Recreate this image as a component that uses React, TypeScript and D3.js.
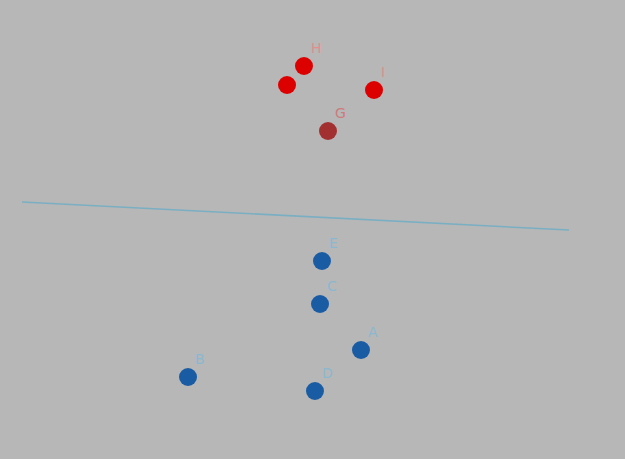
// scatter of two classes split by a separating line, drawn with d3
import * as d3 from "d3";
import { useRef, useEffect } from "react";

// point labels, coordinates and class (0 = upper red, 1 = lower blue, 2 = dark red)
const labels = ["H", "", "I", "G", "E", "C", "A", "B", "D"];
const xValues = [5.155, 4.845, 6.435, 5.594, 5.484, 5.448, 6.197, 3.035, 5.356];
const yValues = [8.85, 8.375, 8.25, 7.225, 3.975, 2.9, 1.75, 1.075, 0.725];
const classes = [0, 0, 0, 2, 1, 1, 1, 1, 1];

// separating line end points
const lineX = [0, 10];
const lineY = [5.45, 4.75];

const colors = ["#dd0000", "#1a5ca4", "#a33030"];
const labelColors = ["#e58c8c", "#8bb7d0", "#cd7a7a"];

export default function App() {
    const svgRef = useRef<SVGSVGElement>(null);

    useEffect(() => {
        const width = 625;
        const height = 459;
        const svg = d3.select(svgRef.current);
        svg.selectAll("*").remove();

        const x = d3.scaleLinear().domain([0, 10]).range([22, 569]);
        const y = d3.scaleLinear().domain([0, 10]).range([420, 20]);

        // background
        svg.append("rect").attr("width", width).attr("height", height).attr("fill", "#b7b7b7");

        // separator
        const line = d3.line<number>().x(i => x(lineX[i])).y(i => y(lineY[i]));
        svg.append("path").attr("d", line([0, 1])).attr("fill", "none").attr("stroke", "#7aafc2").attr("stroke-width", 1.5);

        const data = labels.map((l, i) => ({ label: l, x: xValues[i], y: yValues[i], c: classes[i] }));

        // points
        svg.selectAll("circle").data(data).enter().append("circle")
            .attr("cx", d => x(d.x)).attr("cy", d => y(d.y)).attr("r", 9)
            .attr("fill", d => colors[d.c]);

        // labels
        svg.selectAll("text.lbl").data(data).enter().append("text")
            .attr("class", "lbl")
            .attr("x", d => x(d.x) + 7).attr("y", d => y(d.y) - 13)
            .attr("fill", d => labelColors[d.c])
            .style("font-family", "DejaVu Sans, sans-serif").style("font-size", "14px")
            .text(d => d.label);
    }, []);

    return (
        <svg ref={svgRef} width={625} height={459} style={{ position: "fixed", left: 0, top: 0, display: "block" }} />
    );
}
